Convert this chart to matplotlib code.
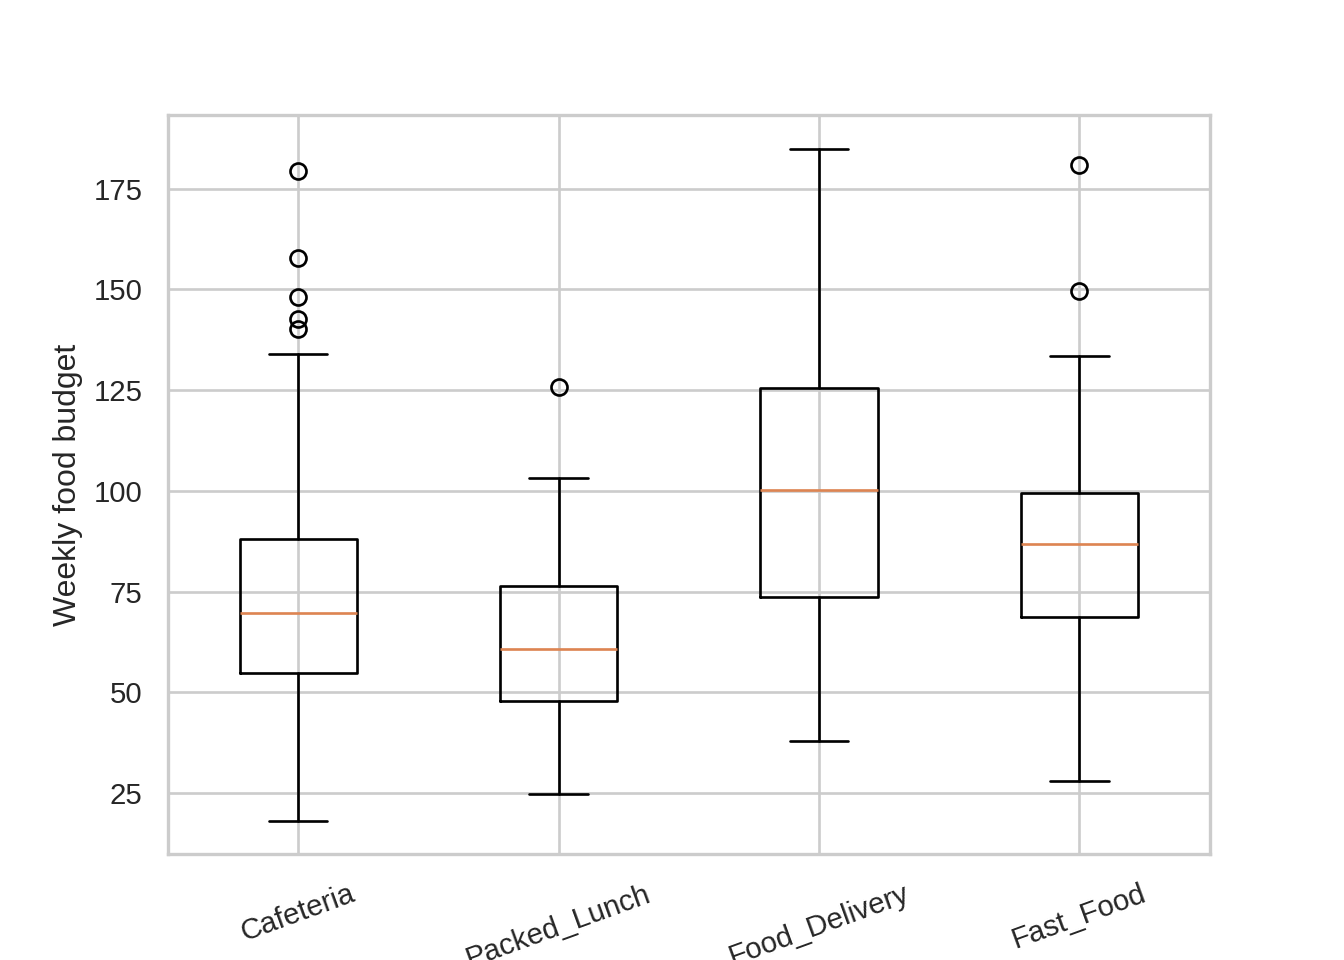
import matplotlib
matplotlib.use("Agg")
import matplotlib.pyplot as plt
import seaborn as sns

sns.set_theme(style="whitegrid")
plt.rcParams['font.family'] = ['Arial', 'Liberation Sans', 'DejaVu Sans']

categories = ["Cafeteria", "Packed_Lunch", "Food_Delivery", "Fast_Food"]
whislo = [18.1, 24.8, 37.9, 28.0]
q1 = [54.8, 47.9, 73.7, 68.7]
med = [69.7, 60.8, 100.2, 86.8]
q3 = [88.1, 76.4, 125.6, 99.5]
whishi = [134.0, 103.2, 184.9, 133.5]
fliers = [
    [179.5, 157.9, 148.2, 142.7, 140.2],
    [125.8],
    [],
    [181.0, 149.7],
]

stats = []
for i, c in enumerate(categories):
    stats.append(dict(label=c, whislo=whislo[i], q1=q1[i], med=med[i],
                      q3=q3[i], whishi=whishi[i], fliers=fliers[i]))

fig, ax = plt.subplots(figsize=(7, 5), dpi=192)
ax.bxp(stats)
ax.set_ylabel("Weekly food budget")
plt.setp(ax.get_xticklabels(), rotation=20)
fig.savefig("out.png", dpi=192)
